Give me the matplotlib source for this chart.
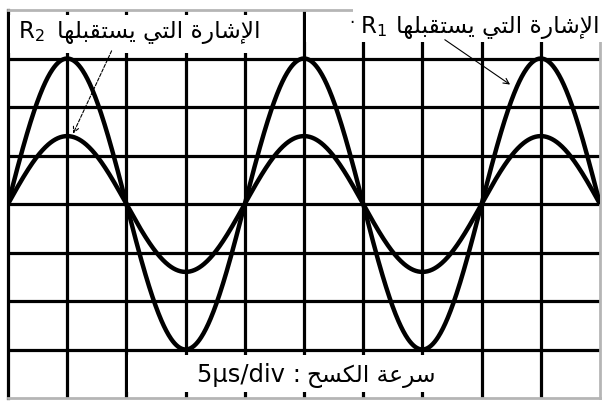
import numpy as np
import matplotlib
matplotlib.use("Agg")
import matplotlib.pyplot as plt
from matplotlib.patches import Rectangle

# oscilloscope screen: 10 x 8 divisions, 5 us / div
n_xdiv = 10
n_ydiv = 8
period_div = 4                 # one period = 4 divisions
amplitudes = [3.0, 1.4]        # R1 (big), R2 (small) in divisions

label_r1 = "الإشارة التي يستقبلها"
label_r2 = "الإشارة التي يستقبلها"
sweep_label = "سرعة الكسح"
sweep_value = "5µs/div :"

# --- petit "reshaper" arabe (matplotlib ne fait pas la mise en forme)
FORMS = {  # isole, final, initial, medial
    'ا': ('\uFE8D', '\uFE8E', None, None),
    'إ': ('\uFE87', '\uFE88', None, None),
    'ب': ('\uFE8F', '\uFE90', '\uFE91', '\uFE92'),
    'ة': ('\uFE93', '\uFE94', None, None),
    'ت': ('\uFE95', '\uFE96', '\uFE97', '\uFE98'),
    'ح': ('\uFEA1', '\uFEA2', '\uFEA3', '\uFEA4'),
    'ر': ('\uFEAD', '\uFEAE', None, None),
    'س': ('\uFEB1', '\uFEB2', '\uFEB3', '\uFEB4'),
    'ش': ('\uFEB5', '\uFEB6', '\uFEB7', '\uFEB8'),
    'ع': ('\uFEC9', '\uFECA', '\uFECB', '\uFECC'),
    'ق': ('\uFED5', '\uFED6', '\uFED7', '\uFED8'),
    'ك': ('\uFED9', '\uFEDA', '\uFEDB', '\uFEDC'),
    'ل': ('\uFEDD', '\uFEDE', '\uFEDF', '\uFEE0'),
    'ه': ('\uFEE9', '\uFEEA', '\uFEEB', '\uFEEC'),
    'ي': ('\uFEF1', '\uFEF2', '\uFEF3', '\uFEF4'),
}
LAM_ALEF = {'ا': ('\uFEFB', '\uFEFC'), 'إ': ('\uFEF9', '\uFEFA')}


def shape(text):
    words = []
    for word in text.split(' '):
        out = []
        prev = False
        i = 0
        while i < len(word):
            c = word[i]
            nxt = word[i + 1] if i + 1 < len(word) else None
            if c == 'ل' and nxt in LAM_ALEF:
                out.append(LAM_ALEF[nxt][1 if prev else 0])
                prev = False
                i += 2
                continue
            iso, fin, ini, med = FORMS[c]
            joins = ini is not None and nxt is not None
            if prev and joins:
                g = med
            elif prev:
                g = fin
            elif joins:
                g = ini
            else:
                g = iso
            out.append(g)
            prev = joins
            i += 1
        words.append(''.join(out))
    return ' '.join(words)[::-1]


plt.rcParams['font.family'] = 'DejaVu Sans'
plt.rcParams['mathtext.fontset'] = 'dejavusans'

fig = plt.figure(figsize=(6.02, 4.03), dpi=100)
ax = fig.add_axes([8 / 602, 5 / 403, 592 / 602, 388 / 403])
ax.set_xlim(0, n_xdiv)
ax.set_ylim(-n_ydiv / 2, n_ydiv / 2)

ax.set_xticks(np.arange(1, n_xdiv))
ax.set_yticks(np.arange(-n_ydiv / 2 + 1, n_ydiv / 2))
ax.tick_params(length=0, labelbottom=False, labelleft=False)
ax.grid(True, color='black', lw=2.3)
ax.set_axisbelow(True)
for s in ['top', 'right', 'bottom']:
    ax.spines[s].set_color('#b5b5b5')
    ax.spines[s].set_linewidth(2)
ax.spines['left'].set_linewidth(2.3)

t = np.linspace(0, n_xdiv, 1000)
for a in amplitudes:
    ax.plot(t, a * np.sin(2 * np.pi * t / period_div), color='black', lw=3.2, zorder=3,
            solid_capstyle='butt')

# cadres blancs des legendes (par dessus la grille)
ax.add_patch(Rectangle((0.03, 3.11), 4.93, 0.78, fc='white', ec='none', zorder=4))
ax.add_patch(Rectangle((5.03, 3.35), 5.1, 0.6, fc='white', ec='none', zorder=4,
                       clip_on=False))
ax.add_patch(Rectangle((5.83, 3.9), 4.3, 0.4, fc='white', ec='none', zorder=4,
                       clip_on=False))
ax.add_patch(Rectangle((2.03, -3.87), 5.95, 0.76, fc='white', ec='none', zorder=4))

# R2
ax.text(0.17, 3.42, r"R$_2$", fontsize=16.5, ha='left', va='baseline', zorder=6)
ax.text(2.55, 3.42, shape(label_r2), fontsize=16.8, ha='center', va='baseline', zorder=6)
# R1
ax.text(5.81, 3.62, "·", fontsize=12, ha='center', va='baseline', zorder=6)
ax.text(5.94, 3.52, r"R$_1$", fontsize=16.5, ha='left', va='baseline', zorder=6,
        clip_on=False)
ax.text(8.27, 3.52, shape(label_r1), fontsize=16.8, ha='center', va='baseline', zorder=6)
# vitesse de balayage
ax.text(4.95, -3.68, sweep_value, fontsize=17.5, ha='right', va='baseline', zorder=6)
ax.text(6.14, -3.68, shape(sweep_label), fontsize=16.8, ha='center', va='baseline',
        zorder=6)

# fleches vers les courbes
ax.annotate('', xy=(period_div / 4 + 0.08, amplitudes[1]), xytext=(1.77, 3.21),
            arrowprops=dict(arrowstyle='->', lw=0.8, ls=(0, (3, 1.5)), color='black'),
            zorder=6)
ax.annotate('', xy=(8.52, 2.43), xytext=(7.34, 3.42),
            arrowprops=dict(arrowstyle='->', lw=0.8, color='black'), zorder=6)

fig.savefig('out.png', dpi=100)
